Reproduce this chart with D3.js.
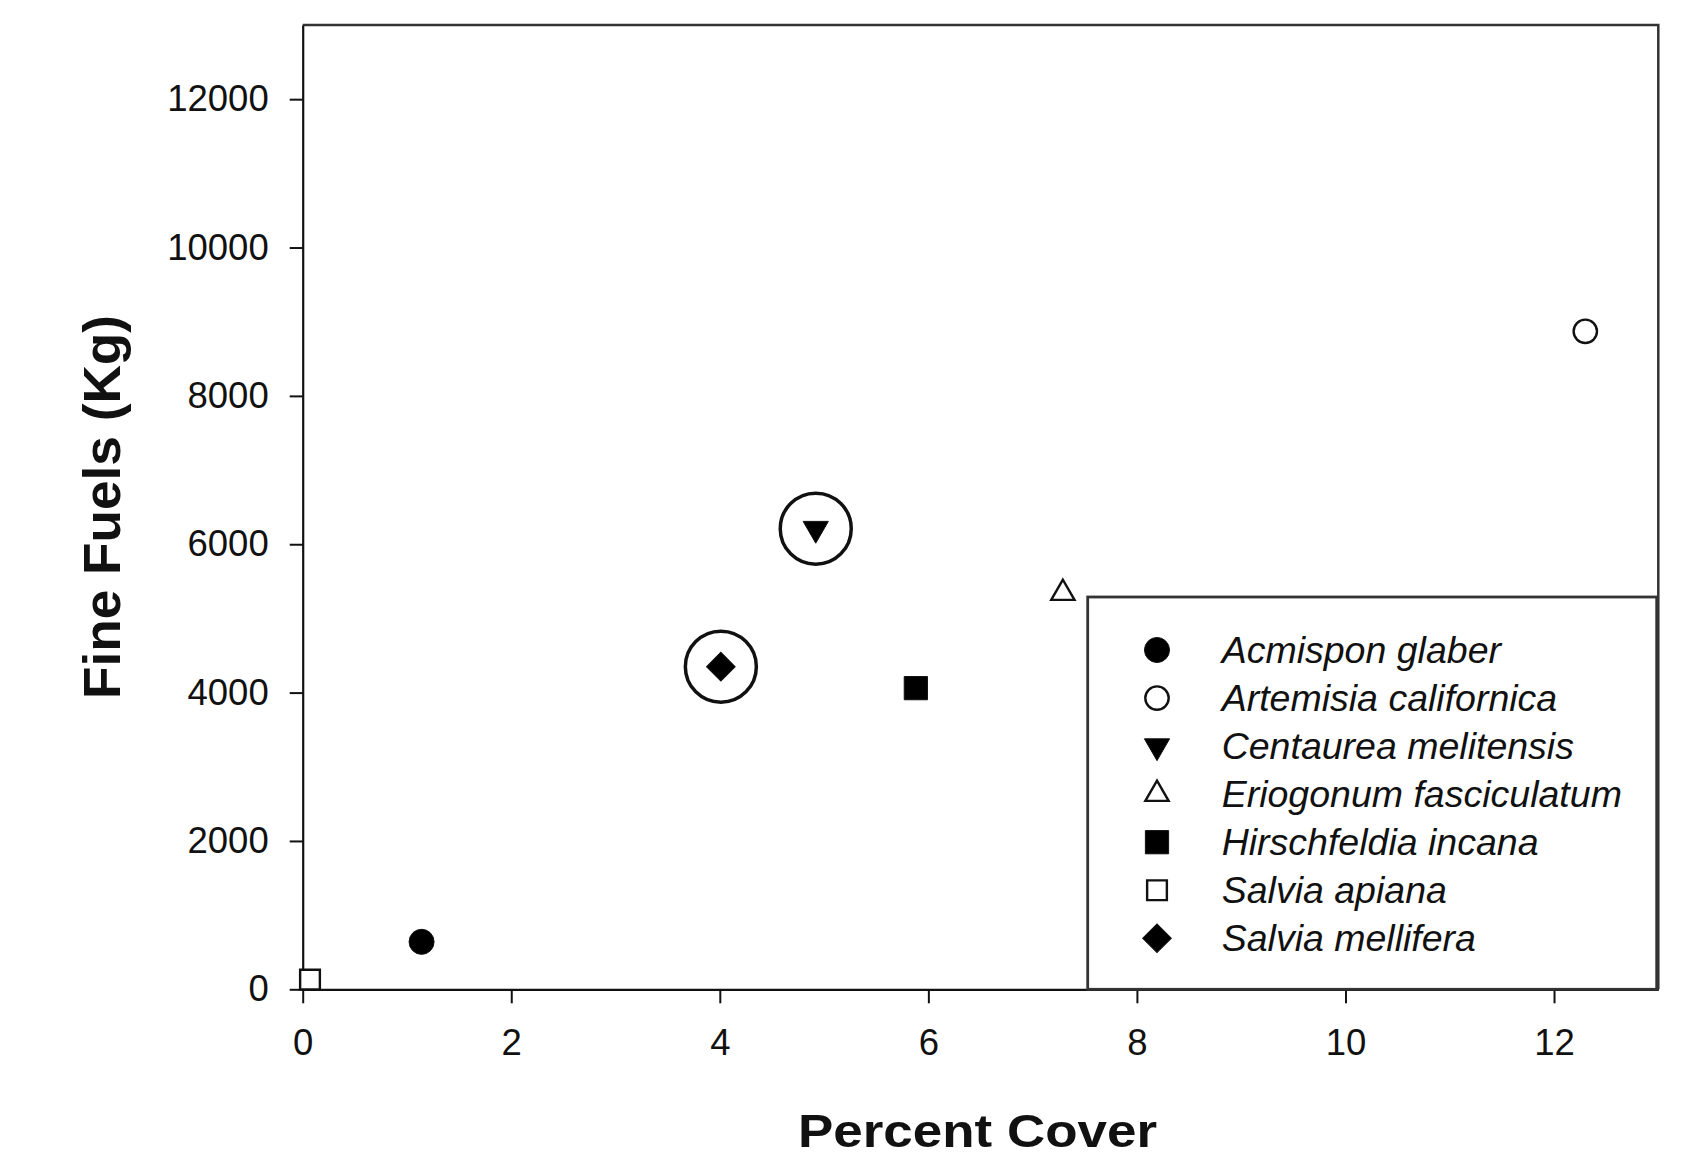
<!DOCTYPE html>
<html>
<head>
<meta charset="utf-8">
<script src="https://cdn.jsdelivr.net/npm/d3@7"></script>
<style>
  html, body { margin: 0; padding: 0; background: #fff; }
  svg { display: block; }
  text { font-family: "Liberation Sans", Arial, Helvetica, sans-serif; fill: #111; }
</style>
</head>
<body>
<svg id="chart" width="1684" height="1160"></svg>
<script>
// ---- data ----
const species = ["Acmispon glaber", "Artemisia californica", "Centaurea melitensis",
                 "Eriogonum fasciculatum", "Hirschfeldia incana", "Salvia apiana", "Salvia mellifera"];
const percentCover = [1.14, 12.30, 4.92, 7.29, 5.88, 0.07, 4.01];
const fineFuels = [640, 8870, 6210, 5340, 4060, 130, 4350];
const highlighted = ["Centaurea melitensis", "Salvia mellifera"];
const xTicks = [0, 2, 4, 6, 8, 10, 12];
const yTicks = [0, 2000, 4000, 6000, 8000, 10000, 12000];
const xTitle = "Percent Cover";
const yTitle = "Fine Fuels (Kg)";

// ---- symbol styles (per species) ----
const symbolStyle = {
  "Acmispon glaber":        { type: d3.symbolCircle,   size: 491, rotate: 0,   fill: "#000" },
  "Artemisia californica":  { type: d3.symbolCircle,   size: 430, rotate: 0,   fill: "none" },
  "Centaurea melitensis":   { type: d3.symbolTriangle, size: 275, rotate: 180, fill: "#000" },
  "Eriogonum fasciculatum": { type: d3.symbolTriangle, size: 235, rotate: 0,   fill: "none" },
  "Hirschfeldia incana":    { type: d3.symbolSquare,   size: 540, rotate: 0,   fill: "#000" },
  "Salvia apiana":          { type: d3.symbolSquare,   size: 390, rotate: 0,   fill: "none" },
  "Salvia mellifera":       { type: d3.symbolSquare,   size: 410, rotate: 45,  fill: "#000" }
};

const W = 1684, H = 1160;
const margin = { left: 302.7, right: 25.7, top: 25, bottom: 170.7 };
const iw = W - margin.left - margin.right;
const ih = H - margin.top - margin.bottom;

const svg = d3.select("#chart");
const g = svg.append("g").attr("transform", `translate(${margin.left},${margin.top})`);

const x = d3.scaleLinear().domain([0, 13]).range([0, iw]);
const y = d3.scaleLinear().domain([0, 13000]).range([ih, 0]);

// frame (top and right)
g.append("path")
  .attr("d", `M0,0H${iw}V${ih}`)
  .attr("fill", "none").attr("stroke", "#333").attr("stroke-width", 2.5);

// axes
const xAxis = g.append("g").attr("transform", `translate(0,${ih})`)
  .call(d3.axisBottom(x).tickValues(xTicks).tickSize(14).tickSizeOuter(0).tickPadding(26).tickFormat(d3.format("d")));
const yAxis = g.append("g")
  .call(d3.axisLeft(y).tickValues(yTicks).tickSize(13).tickSizeOuter(0).tickPadding(21).tickFormat(d3.format("d")));
[xAxis, yAxis].forEach(a => {
  a.select(".domain").attr("stroke", "#111").attr("stroke-width", 2.2);
  a.selectAll(".tick line").attr("stroke", "#111").attr("stroke-width", 2);
  a.selectAll(".tick text").attr("font-size", 36.5).attr("fill", "#111")
    .style("font-family", '"Liberation Sans", Arial, sans-serif');
});

// axis titles
svg.append("text")
  .attr("x", 977.5).attr("y", 1147)
  .attr("text-anchor", "middle").attr("font-size", 47).attr("font-weight", "bold")
  .attr("textLength", 359).attr("lengthAdjust", "spacingAndGlyphs")
  .text(xTitle);
svg.append("text")
  .attr("transform", "translate(120,507) rotate(-90)")
  .attr("text-anchor", "middle").attr("font-size", 52).attr("font-weight", "bold")
  .attr("textLength", 384).attr("lengthAdjust", "spacingAndGlyphs")
  .text(yTitle);

// data
const pts = species.map((s, i) => ({ s, xv: percentCover[i], yv: fineFuels[i] }));

function drawSymbol(sel, s) {
  const st = symbolStyle[s];
  sel.append("path")
    .attr("d", d3.symbol().type(st.type).size(st.size)())
    .attr("transform", `rotate(${st.rotate})`)
    .attr("fill", st.fill === "none" ? "#fff" : st.fill)
    .attr("stroke", "#111")
    .attr("stroke-width", st.fill === "none" ? 2.4 : 1);
}

// legend box
const legendX = 1087.7, legendY = 597, legendW = 1656.7 - 1087.7, legendH = margin.top + ih - 597;
const legend = svg.append("g");
legend.append("rect")
  .attr("x", legendX).attr("y", legendY).attr("width", legendW).attr("height", legendH)
  .attr("fill", "#fff").attr("stroke", "#333").attr("stroke-width", 2.8);
species.forEach((s, i) => {
  const rowY = 650 + i * 48.05;
  const item = legend.append("g").attr("transform", `translate(1157,${rowY})`);
  drawSymbol(item, s);
  legend.append("text")
    .attr("x", 1221.7).attr("y", rowY + 12.5)
    .attr("font-size", 37.5).attr("font-style", "italic").attr("fill", "#111")
    .text(s);
});

// points
const pg = g.append("g");
pts.forEach(d => {
  const sg = pg.append("g").attr("transform", `translate(${x(d.xv)},${y(d.yv)})`);
  if (highlighted.includes(d.s)) {
    sg.append("circle").attr("r", 35.5).attr("fill", "none")
      .attr("stroke", "#111").attr("stroke-width", 3.5);
  }
  drawSymbol(sg, d.s);
});
</script>
</body>
</html>
